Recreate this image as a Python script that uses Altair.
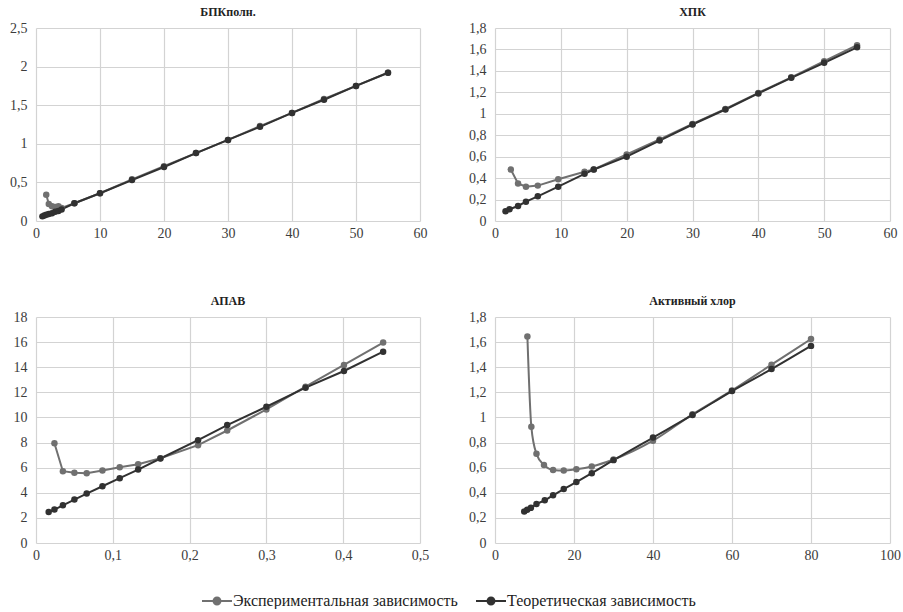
import altair as alt
import pandas as pd

EXP = "Экспериментальная зависимость"
THEO = "Теоретическая зависимость"

# --- БПКполн. ---
bpk_exp_x = [1.6, 2.0, 2.5, 3.0, 3.5, 4.0, 6, 10, 15, 20, 25, 30, 35, 40, 45, 50, 55]
bpk_exp_y = [0.34, 0.22, 0.19, 0.18, 0.19, 0.17, 0.23, 0.36, 0.54, 0.71, 0.88, 1.05, 1.23, 1.40, 1.58, 1.75, 1.92]
bpk_theo_x = [1.0, 1.3, 1.6, 2.0, 2.5, 3.0, 3.5, 4.0, 6, 10, 15, 20, 25, 30, 35, 40, 45, 50, 55]
bpk_theo_y = [0.06, 0.07, 0.08, 0.09, 0.10, 0.12, 0.13, 0.15, 0.23, 0.36, 0.53, 0.70, 0.88, 1.05, 1.22, 1.40, 1.57, 1.75, 1.92]

# --- ХПК ---
hpk_exp_x = [2.4, 3.5, 4.7, 6.5, 9.6, 13.6, 15, 20, 25, 30, 35, 40, 45, 50, 55]
hpk_exp_y = [0.48, 0.35, 0.32, 0.33, 0.39, 0.46, 0.48, 0.62, 0.76, 0.905, 1.045, 1.195, 1.34, 1.49, 1.64]
hpk_theo_x = [1.6, 2.2, 3.5, 4.7, 6.5, 9.6, 13.6, 15, 20, 25, 30, 35, 40, 45, 50, 55]
hpk_theo_y = [0.09, 0.11, 0.14, 0.18, 0.23, 0.32, 0.44, 0.48, 0.60, 0.75, 0.90, 1.04, 1.19, 1.335, 1.475, 1.62]

# --- АПАВ ---
apav_exp_x = [0.024, 0.035, 0.050, 0.066, 0.0865, 0.109, 0.133, 0.162, 0.211, 0.249, 0.300, 0.351, 0.401, 0.452]
apav_exp_y = [7.95, 5.72, 5.59, 5.56, 5.77, 6.04, 6.28, 6.75, 7.79, 8.96, 10.64, 12.45, 14.18, 15.96]
apav_theo_x = [0.0165, 0.024, 0.035, 0.050, 0.066, 0.0865, 0.109, 0.133, 0.162, 0.211, 0.249, 0.300, 0.351, 0.401, 0.452]
apav_theo_y = [2.47, 2.66, 3.0, 3.46, 3.94, 4.52, 5.16, 5.85, 6.73, 8.19, 9.39, 10.85, 12.37, 13.70, 15.24]

# --- Активный хлор ---
chlor_exp_x = [8.2, 9.2, 10.5, 12.4, 14.7, 17.4, 20.6, 24.5, 30, 40, 50, 60, 70, 80]
chlor_exp_y = [1.645, 0.925, 0.71, 0.622, 0.582, 0.577, 0.588, 0.61, 0.665, 0.815, 1.025, 1.215, 1.42, 1.625]
chlor_theo_x = [7.4, 8.15, 9.1, 10.5, 12.6, 14.7, 17.4, 20.6, 24.5, 30, 40, 50, 60, 70, 80]
chlor_theo_y = [0.25, 0.265, 0.28, 0.31, 0.34, 0.38, 0.43, 0.485, 0.556, 0.66, 0.84, 1.02, 1.21, 1.385, 1.57]

GRAY = "#707070"
DARK = "#313131"

color_scale = alt.Scale(domain=[EXP, THEO], range=[GRAY, DARK])

# line + filled dot drawn as concentric strokes so the dot looks solid
LEGEND_SYMBOL = ("M-1,0L1,0"
                 "M-0.23,0a0.23,0.23 0 1,0 0.46,0a0.23,0.23 0 1,0 -0.46,0"
                 "M-0.15,0a0.15,0.15 0 1,0 0.3,0a0.15,0.15 0 1,0 -0.3,0"
                 "M-0.07,0a0.07,0.07 0 1,0 0.14,0a0.07,0.07 0 1,0 -0.14,0")

LABEL_EXPR = "replace(format(datum.value, '~g'), '.', ',')"


def frame(ex, ey, tx, ty):
    rows = [{"x": a, "y": b, "series": EXP} for a, b in zip(ex, ey)]
    rows += [{"x": a, "y": b, "series": THEO} for a, b in zip(tx, ty)]
    return pd.DataFrame(rows)


def panel(df, title, xdom, xticks, ydom, yticks, w, h, interp="linear", legend=None):
    base = alt.Chart(df).encode(
        x=alt.X("x:Q", scale=alt.Scale(domain=xdom, nice=False, zero=False),
                axis=alt.Axis(values=xticks, title=None, labelExpr=LABEL_EXPR)),
        y=alt.Y("y:Q", scale=alt.Scale(domain=ydom, nice=False),
                axis=alt.Axis(values=yticks, title=None, labelExpr=LABEL_EXPR)),
        color=alt.Color("series:N", scale=color_scale, legend=legend, sort=[EXP, THEO]),
    )
    lines = base.mark_line(strokeWidth=2, interpolate=interp)
    dots = base.mark_circle(size=42, opacity=1)
    return alt.layer(lines, dots).properties(
        width=w, height=h, title=alt.TitleParams(title)
    )


legend = alt.Legend(
    title=None,
    orient="none",
    direction="horizontal",
    legendX=165,
    legendY=557,
    padding=0,
    symbolType=LEGEND_SYMBOL,
    symbolSize=900,
    symbolStrokeWidth=2,
    symbolOffset=0,
    labelFont="Liberation Serif",
    labelFontSize=16,
    labelColor="#222222",
    labelOffset=0,
    labelLimit=400,
    columnPadding=14,
)

p1 = panel(frame(bpk_exp_x, bpk_exp_y, bpk_theo_x, bpk_theo_y), "БПКполн.",
           [0, 60], [0, 10, 20, 30, 40, 50, 60], [0, 2.5], [0, 0.5, 1, 1.5, 2, 2.5],
           384, 193, legend=legend)
p2 = panel(frame(hpk_exp_x, hpk_exp_y, hpk_theo_x, hpk_theo_y), "ХПК",
           [0, 60], [0, 10, 20, 30, 40, 50, 60], [0, 1.8],
           [0, 0.2, 0.4, 0.6, 0.8, 1, 1.2, 1.4, 1.6, 1.8], 395, 193)
p3 = panel(frame(apav_exp_x, apav_exp_y, apav_theo_x, apav_theo_y), "АПАВ",
           [0, 0.5], [0, 0.1, 0.2, 0.3, 0.4, 0.5], [0, 18],
           [0, 2, 4, 6, 8, 10, 12, 14, 16, 18], 384, 226)
p4 = panel(frame(chlor_exp_x, chlor_exp_y, chlor_theo_x, chlor_theo_y), "Активный хлор",
           [0, 100], [0, 20, 40, 60, 80, 100], [0, 1.8],
           [0, 0.2, 0.4, 0.6, 0.8, 1, 1.2, 1.4, 1.6, 1.8], 395, 226, interp="monotone")

chart = alt.concat(
    p1, p2, p3, p4,
    columns=2,
    bounds="flush",
    align="each",
    spacing=alt.RowColnumber(column=75, row=96),
).properties(
    padding={"left": 9, "top": 6, "right": 0, "bottom": 0},
    background="white",
).configure_axis(
    grid=True,
    gridColor="#d3d3d3",
    gridWidth=1.2,
    domain=False,
    ticks=False,
    tickSize=0,
    labelFlush=False,
    labelFont="Liberation Serif",
    labelFontSize=14,
    labelColor="#3c3c3c",
).configure_axisY(
    labelPadding=9,
).configure_axisX(
    labelPadding=5,
).configure_title(
    font="Liberation Serif",
    fontSize=12,
    fontWeight="bold",
    color="#222222",
    anchor="middle",
    offset=2,
).configure_view(
    stroke=None,
)

chart.save("out.html", embed_options={"renderer": "svg", "actions": False})
